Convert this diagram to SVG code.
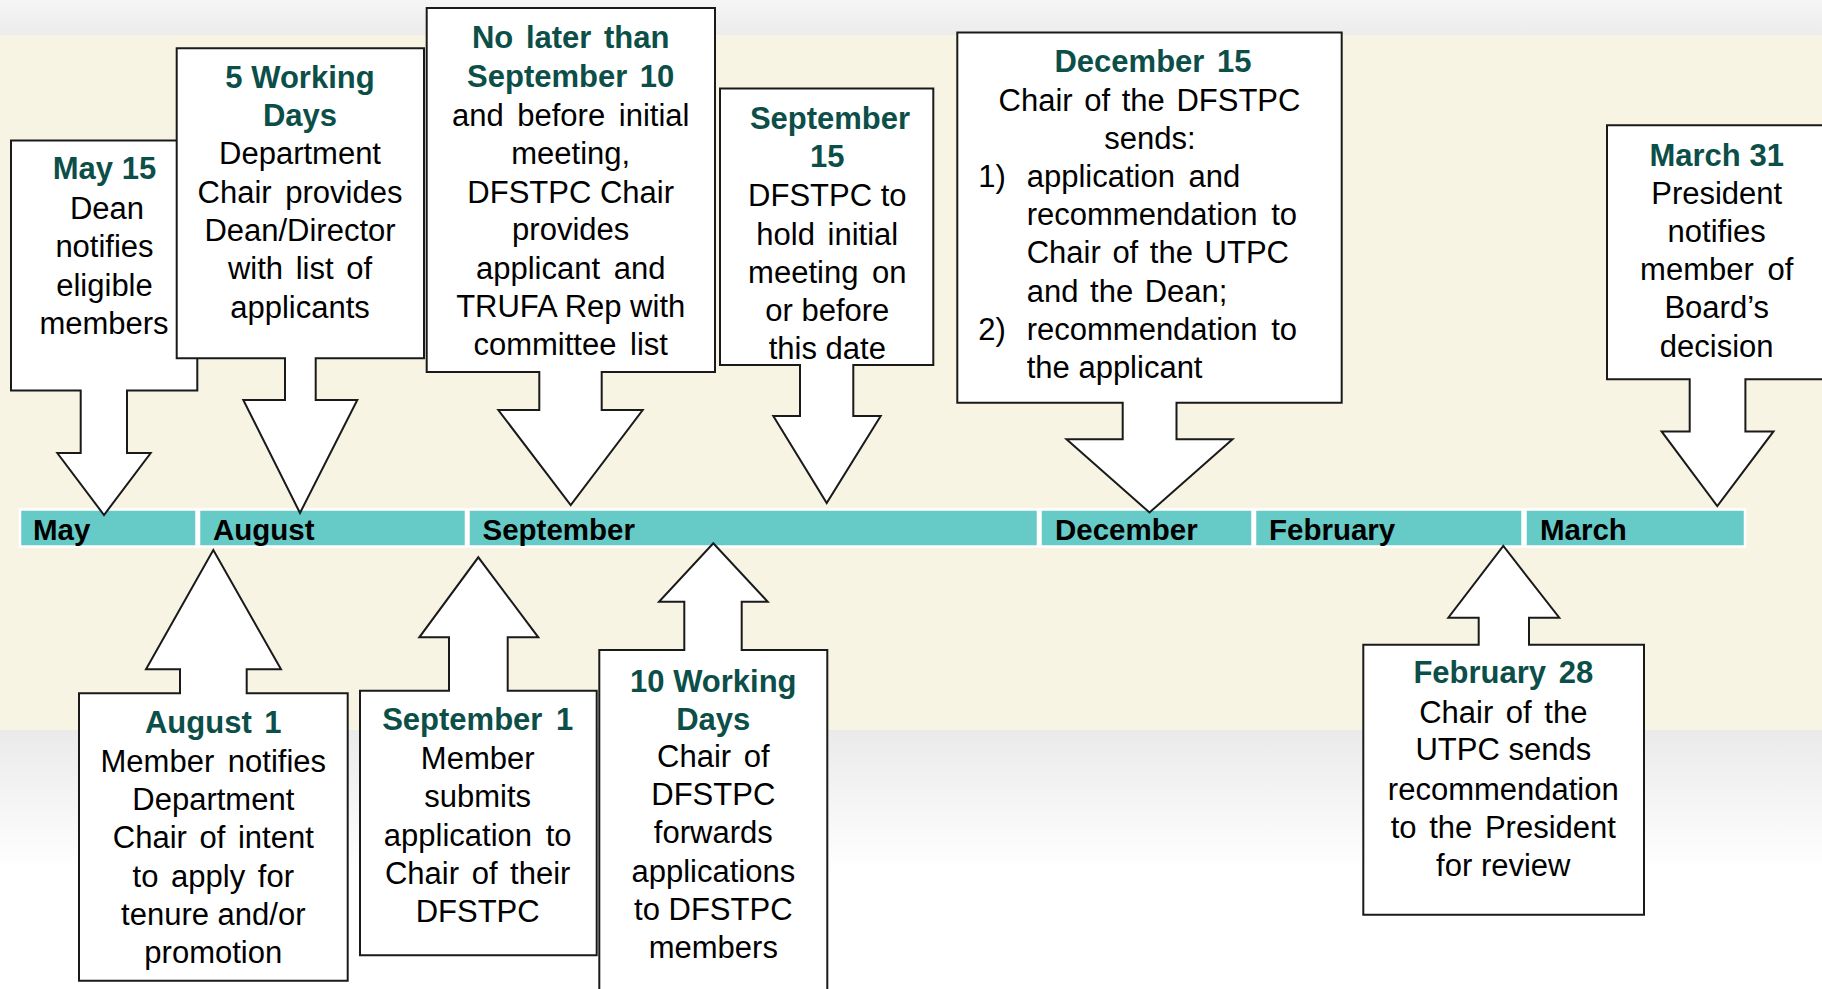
<svg xmlns="http://www.w3.org/2000/svg" width="1822" height="989" viewBox="0 0 1822 989">
<defs>
<linearGradient id="topg" x1="0" y1="0" x2="0" y2="1">
<stop offset="0" stop-color="#f5f5f5"/><stop offset="1" stop-color="#ececec"/>
</linearGradient>
<linearGradient id="botg" x1="0" y1="0" x2="0" y2="1">
<stop offset="0" stop-color="#eaeaea"/><stop offset="1" stop-color="#ffffff"/>
</linearGradient>
<style>
.call{fill:#ffffff;stroke:#1a1a1a;stroke-width:2;stroke-linejoin:miter}
.seg{fill:#66cbc6;stroke:#ffffff;stroke-width:2.5}
.mon{font-family:"Liberation Sans",Arial,sans-serif;font-weight:bold;font-size:29.5px;fill:#000000}
.hd{font-family:"Liberation Sans",Arial,sans-serif;font-weight:bold;font-size:31px;fill:#0c4e48;text-anchor:middle}
.tx{font-family:"Liberation Sans",Arial,sans-serif;font-size:31px;fill:#000000;text-anchor:middle}
.tl{font-family:"Liberation Sans",Arial,sans-serif;font-size:31px;fill:#000000}
</style>
</defs>
<g id="background">
<rect x="0" y="0" width="1822" height="35" fill="url(#topg)"/>
<rect x="0" y="35" width="1822" height="695" fill="#f7f4e4"/>
<rect x="0" y="730" width="1822" height="140" fill="url(#botg)"/>
<rect x="0" y="870" width="1822" height="119" fill="#ffffff"/>
</g>
<g id="timeline">
<rect class="seg" x="20" y="509.5" width="176.5" height="37"/>
<rect class="seg" x="199" y="509.5" width="267" height="37"/>
<rect class="seg" x="468.5" y="509.5" width="569.5" height="37"/>
<rect class="seg" x="1040.5" y="509.5" width="212" height="37"/>
<rect class="seg" x="1255" y="509.5" width="267.5" height="37"/>
<rect class="seg" x="1525.5" y="509.5" width="219.5" height="37"/>
<text class="mon" x="33" y="540">May</text>
<text class="mon" x="213" y="540">August</text>
<text class="mon" x="482.5" y="540">September</text>
<text class="mon" x="1055" y="540">December</text>
<text class="mon" x="1269" y="540">February</text>
<text class="mon" x="1540" y="540">March</text>
</g>
<g id="connectors"></g>
<g id="n-may15">
<path class="call" d="M11,140.5 H197.3 V390.5 H127 V453 H150.7 L104,515 L57.3,453 H80.7 V390.5 H11 Z"/>
<text class="hd" x="104.5" y="179.3">May 15</text>
<text class="tx" x="107" y="218.6">Dean</text>
<text class="tx" x="104.5" y="257">notifies</text>
<text class="tx" x="104.5" y="295.5">eligible</text>
<text class="tx" x="104" y="334">members</text>
</g>
<g id="n-5wd">
<path class="call" d="M176.7,48.2 H424 V358.2 H315.7 V400 H357.3 L300,513 L243.3,400 H285 V358.2 H176.7 Z"/>
<text class="hd" x="300" y="87.5">5 Working</text>
<text class="hd" x="300" y="125.9">Days</text>
<text class="tx" x="300" y="164.3">Department</text>
<text class="tx" x="300" y="202.6" word-spacing="5">Chair provides</text>
<text class="tx" x="300" y="241">Dean/Director</text>
<text class="tx" x="300" y="279.3" word-spacing="4">with list of</text>
<text class="tx" x="300" y="317.6">applicants</text>
</g>
<g id="n-sep10">
<path class="call" d="M426.7,7.9 H715 V372 H601.7 V410 H642.7 L570.7,505 L498.3,410 H539.3 V372 H426.7 Z"/>
<text class="hd" x="570.7" y="48.2" word-spacing="4">No later than</text>
<text class="hd" x="570.7" y="86.8" word-spacing="4">September 10</text>
<text class="tx" x="570.7" y="125.7" word-spacing="5">and before initial</text>
<text class="tx" x="570.7" y="163.6">meeting,</text>
<text class="tx" x="570.7" y="202.5">DFSTPC Chair</text>
<text class="tx" x="570.7" y="240.4">provides</text>
<text class="tx" x="570.7" y="278.6" word-spacing="5">applicant and</text>
<text class="tx" x="570.7" y="317">TRUFA Rep with</text>
<text class="tx" x="570.7" y="355.4" word-spacing="5">committee list</text>
</g>
<g id="n-sep15">
<path class="call" d="M720,88.6 H933.3 V365 H853.3 V416 H880.7 L826.7,503 L773.3,416 H800 V365 H720 Z"/>
<text class="hd" x="830" y="128.6">September</text>
<text class="hd" x="827.3" y="167">15</text>
<text class="tx" x="827.3" y="206.4">DFSTPC to</text>
<text class="tx" x="827.3" y="244.6" word-spacing="4">hold initial</text>
<text class="tx" x="827.3" y="282.5" word-spacing="5">meeting on</text>
<text class="tx" x="827.3" y="321">or before</text>
<text class="tx" x="827.3" y="358.5">this date</text>
</g>
<g id="n-dec15">
<path class="call" d="M957.3,32.5 H1341.7 V402.8 H1176.5 V439.3 H1232.5 L1149.5,512.5 L1066.5,439.3 H1122.7 V402.8 H957.3 Z"/>
<text class="hd" x="1153" y="72.3" word-spacing="4">December 15</text>
<text class="tx" x="1149.5" y="110.7" word-spacing="3">Chair of the DFSTPC</text>
<text class="tx" x="1150" y="149">sends:</text>
<text class="tl" x="978.3" y="186.7">1)</text>
<text class="tl" x="1026.7" y="186.7" word-spacing="5">application and</text>
<text class="tl" x="1026.7" y="225" word-spacing="5">recommendation to</text>
<text class="tl" x="1026.7" y="263.3" word-spacing="3">Chair of the UTPC</text>
<text class="tl" x="1026.7" y="301.7" word-spacing="3">and the Dean;</text>
<text class="tl" x="978.3" y="340">2)</text>
<text class="tl" x="1026.7" y="340" word-spacing="5">recommendation to</text>
<text class="tl" x="1026.7" y="378.3">the applicant</text>
</g>
<g id="n-mar31">
<path class="call" d="M1607,125.3 H1828 V379.3 H1745.4 V431.4 H1773.5 L1717.3,506 L1661.6,431.4 H1689.7 V379.3 H1607 Z"/>
<text class="hd" x="1716.7" y="165.7">March 31</text>
<text class="tx" x="1716.7" y="204">President</text>
<text class="tx" x="1716.7" y="241.7">notifies</text>
<text class="tx" x="1716.7" y="280" word-spacing="5">member of</text>
<text class="tx" x="1716.7" y="318.3">Board’s</text>
<text class="tx" x="1716.7" y="356.7">decision</text>
</g>
<g id="n-aug1">
<path class="call" d="M79,693.3 H180 V669.3 H146 L213.3,550 L281,669.3 H246.7 V693.3 H347.7 V980.7 H79 Z"/>
<text class="hd" x="213.3" y="733" word-spacing="4">August 1</text>
<text class="tx" x="213.3" y="771.7" word-spacing="5">Member notifies</text>
<text class="tx" x="213.3" y="810">Department</text>
<text class="tx" x="213.3" y="848.3" word-spacing="4">Chair of intent</text>
<text class="tx" x="213.3" y="886.7" word-spacing="4">to apply for</text>
<text class="tx" x="213.3" y="925">tenure and/or</text>
<text class="tx" x="213.3" y="963.3">promotion</text>
</g>
<g id="n-sep1">
<path class="call" d="M360,690.7 H449 V637.3 H419.3 L478.3,557.3 L538.3,637.3 H507.7 V690.7 H596.7 V955.3 H360 Z"/>
<text class="hd" x="477.7" y="730" word-spacing="5">September 1</text>
<text class="tx" x="477.7" y="769.3">Member</text>
<text class="tx" x="477.7" y="806.7">submits</text>
<text class="tx" x="477.7" y="846" word-spacing="5">application to</text>
<text class="tx" x="477.7" y="884" word-spacing="4">Chair of their</text>
<text class="tx" x="477.7" y="921.7">DFSTPC</text>
</g>
<g id="n-10wd">
<path class="call" d="M599.3,650 H684.3 V601.7 H659 L713.3,543.3 L767.7,601.7 H741.7 V650 H827.3 V995 H599.3 Z"/>
<text class="hd" x="713.3" y="691.7">10 Working</text>
<text class="hd" x="713.3" y="730">Days</text>
<text class="tx" x="713.3" y="766.7" word-spacing="4">Chair of</text>
<text class="tx" x="713.3" y="805">DFSTPC</text>
<text class="tx" x="713.3" y="843.3">forwards</text>
<text class="tx" x="713.3" y="881.7">applications</text>
<text class="tx" x="713.3" y="920">to DFSTPC</text>
<text class="tx" x="713.3" y="958.3">members</text>
</g>
<g id="n-feb28">
<path class="call" d="M1363.3,644.7 H1478.7 V617.7 H1448.3 L1503.3,546 L1559.3,617.7 H1529 V644.7 H1644 V914.7 H1363.3 Z"/>
<text class="hd" x="1503.3" y="683.3" word-spacing="4">February 28</text>
<text class="tx" x="1503.3" y="722.7" word-spacing="4">Chair of the</text>
<text class="tx" x="1503.3" y="760">UTPC sends</text>
<text class="tx" x="1503.3" y="800">recommendation</text>
<text class="tx" x="1503.3" y="838.3" word-spacing="4">to the President</text>
<text class="tx" x="1503.3" y="876">for review</text>
</g>
</svg>
